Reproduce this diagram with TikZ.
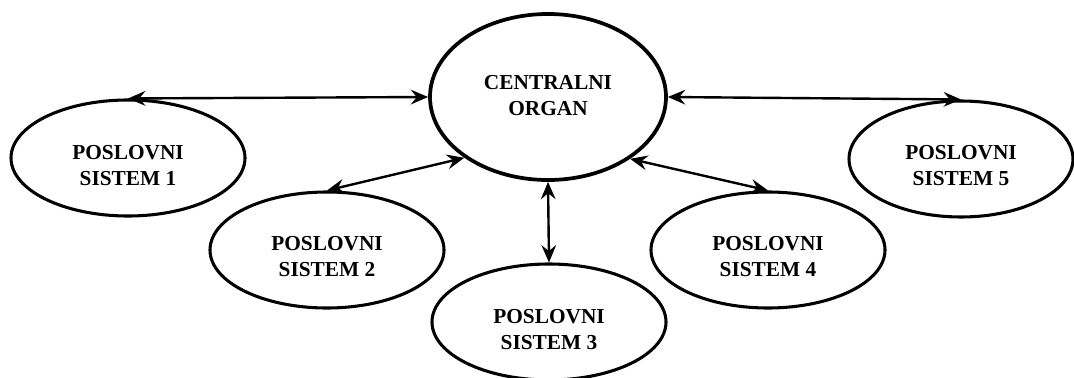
\documentclass[tikz,border=0pt]{standalone}
\usepackage{fontspec}
\setmainfont{Liberation Serif}
\usetikzlibrary{arrows.meta,shapes.geometric}

\tikzset{
  organ/.style={ellipse,draw,line width=2.8pt,minimum width=177pt,minimum height=124.5pt,inner sep=0pt},
  sistem/.style={ellipse,draw,line width=2.3pt,minimum width=175.5pt,minimum height=87pt,inner sep=0pt},
  natpis/.style={font=\fontsize{16}{19.5}\selectfont\bfseries,align=center,inner sep=0pt},
  vrh/.tip={Stealth[length=13pt,width=11pt,inset=4.5pt]},
  veza/.style={line width=1.8pt,vrh-vrh}
}

\begin{document}
\begin{tikzpicture}[x=0.75pt,y=0.75pt,yscale=-1,xscale=1]
\useasboundingbox (0,0) rectangle (1074,378);

%Shape: Ellipse [central]
\node [organ] (c) at (548,97) {};
\node [natpis] (ct) at ([yshift=-1pt]c.center) {CENTRALNI\\ORGAN};
%Shape: Ellipse [sistem 1]
\node [sistem] (s1) at (128,158) {};
\node [natpis] (t1) at ([yshift=6pt]s1.center) {POSLOVNI\\SISTEM 1};
%Shape: Ellipse [sistem 2]
\node [sistem] (s2) at (327,250) {};
\node [natpis] (t2) at ([yshift=5pt]s2.center) {POSLOVNI\\SISTEM 2};
%Shape: Ellipse [sistem 3]
\node [sistem] (s3) at (549,322) {};
\node [natpis] (t3) at ([yshift=6pt]s3.center) {POSLOVNI\\SISTEM 3};
%Shape: Ellipse [sistem 4]
\node [sistem] (s4) at (768,250) {};
\node [natpis] (t4) at ([yshift=5pt]s4.center) {POSLOVNI\\SISTEM 4};
%Shape: Ellipse [sistem 5]
\node [sistem,minimum width=168pt] (s5) at (961,159) {};
\node [natpis] (t5) at ([yshift=5pt]s5.center) {POSLOVNI\\SISTEM 5};

%Straight Lines
\draw [veza] (s1.north) -- (c.west);
%Straight Lines
\draw [veza] (c.east) -- (s5.north);
%Straight Lines
\draw [veza] (s2.north) -- (c.216);
%Straight Lines
\draw [veza] (c.south) -- (s3.north);
%Straight Lines
\draw [veza] (c.323) -- (s4.north);

\end{tikzpicture}
\end{document}
